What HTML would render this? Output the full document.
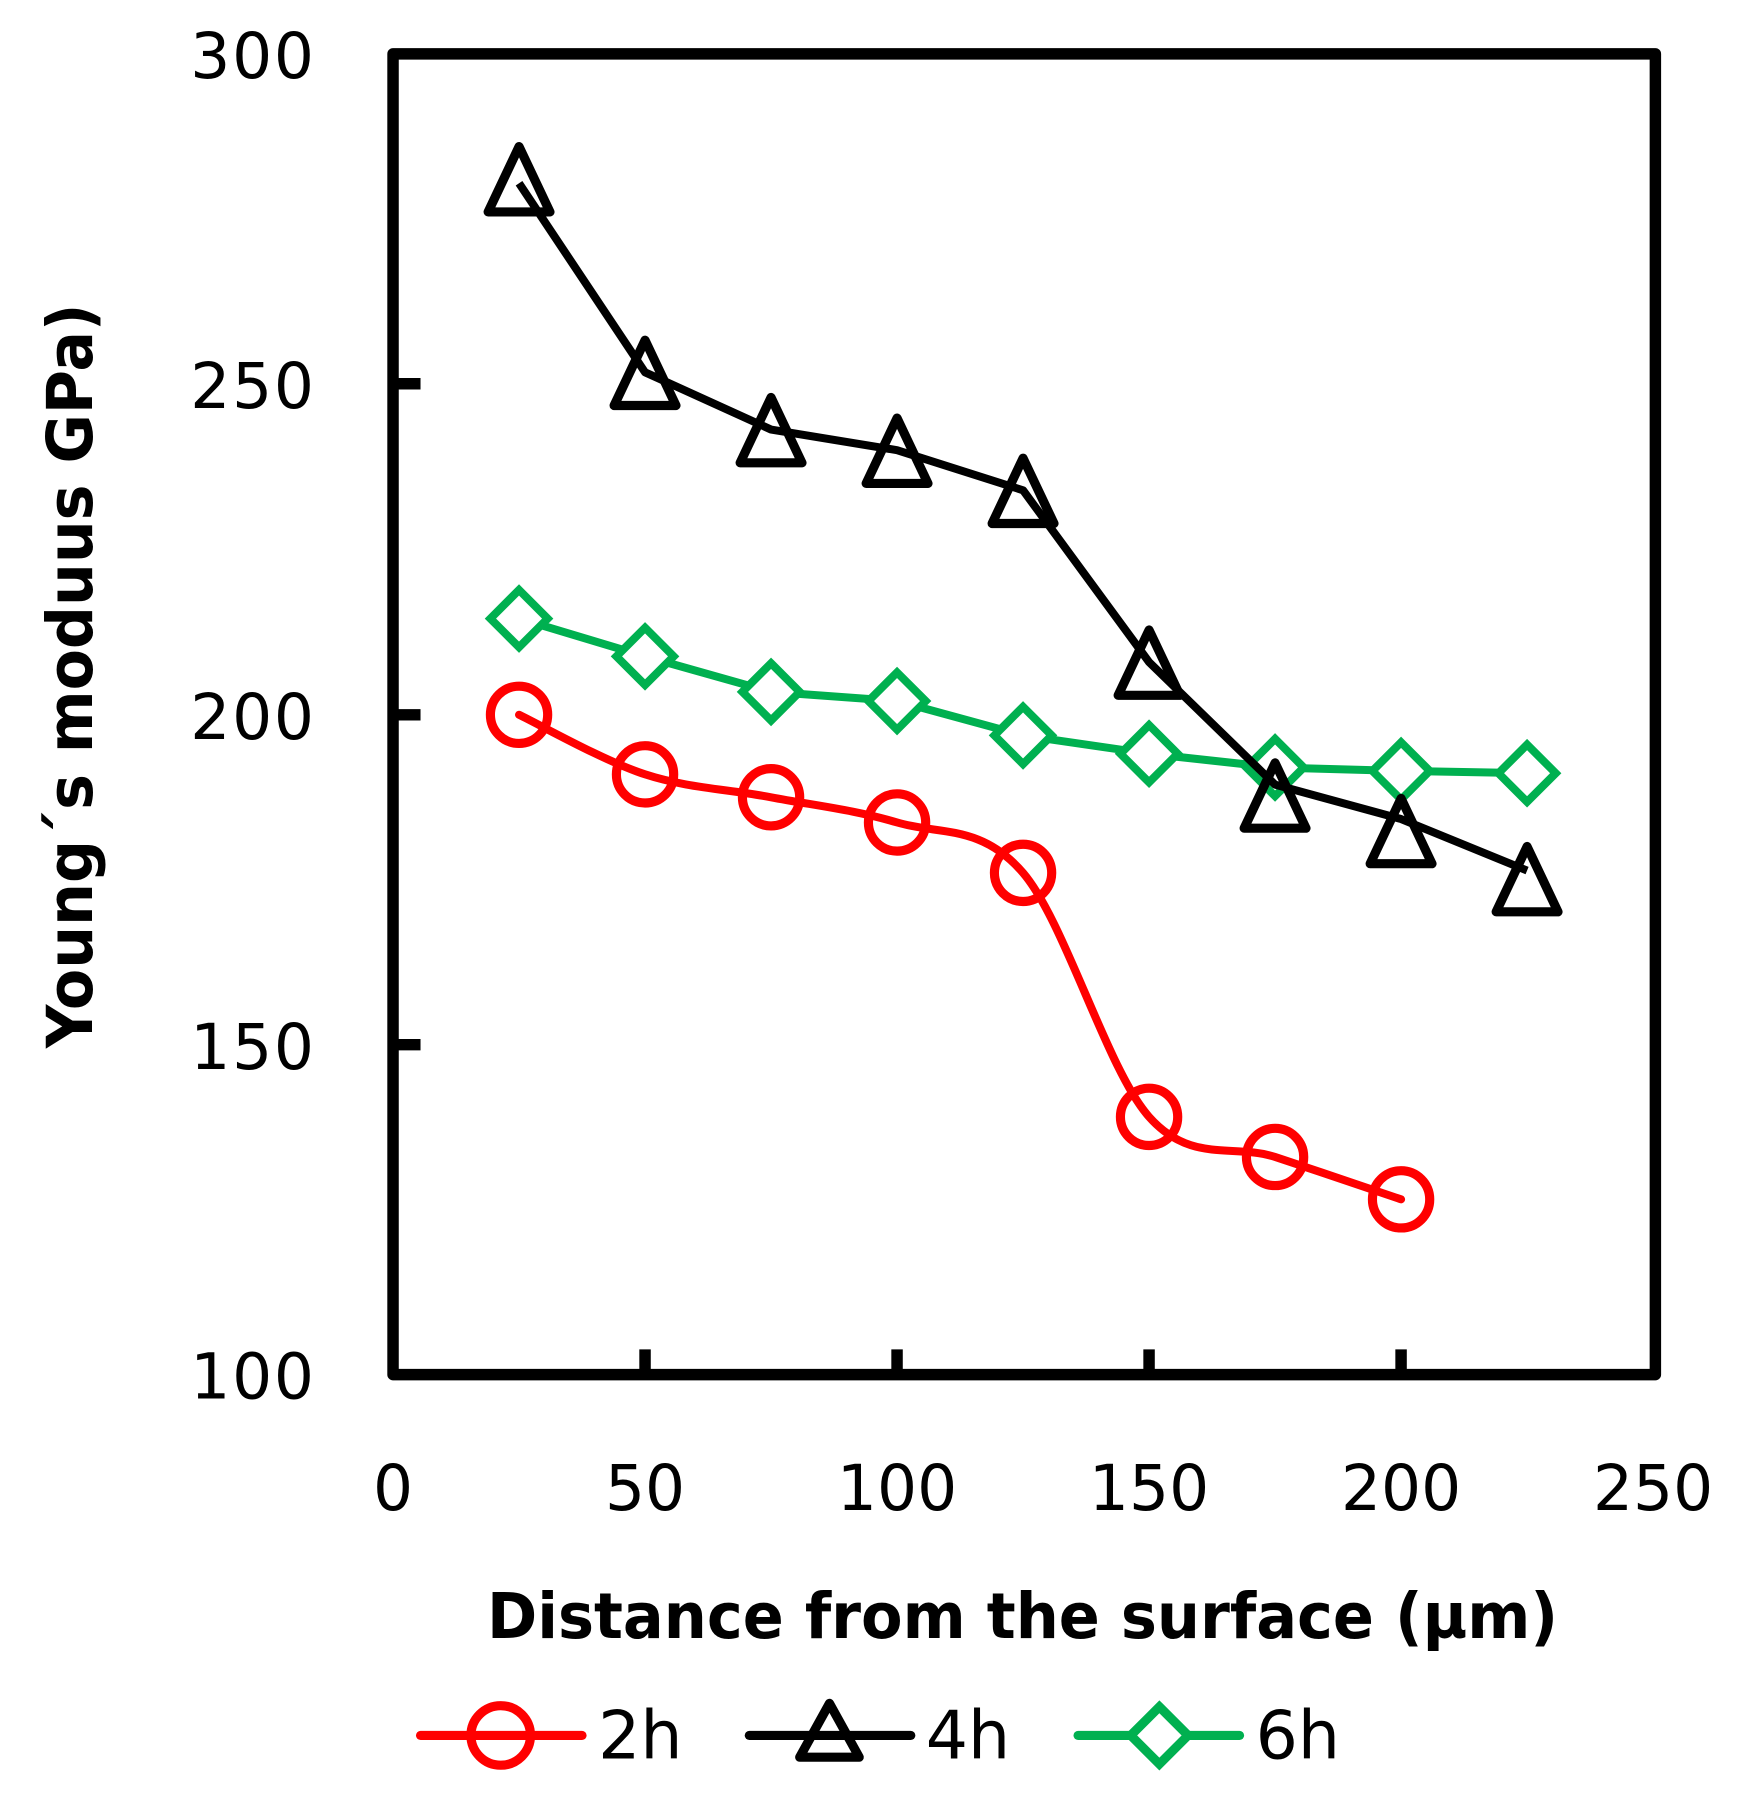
<!DOCTYPE html>
<html><head><meta charset="utf-8"><style>html,body{margin:0;padding:0;background:#fff}svg{display:block}</style></head>
<body>
<svg width="1746" height="1795" viewBox="0 0 1524 1567" xmlns="http://www.w3.org/2000/svg" font-family="'DejaVu Sans', 'Liberation Sans', sans-serif">
<rect width="1524" height="1567" fill="#fff"/>
<g stroke="#000" stroke-width="10" stroke-linecap="butt">
<line x1="343" y1="335" x2="367" y2="335"/>
<line x1="343" y1="624" x2="367" y2="624"/>
<line x1="343" y1="912" x2="367" y2="912"/>
<line x1="563" y1="1200" x2="563" y2="1178"/>
<line x1="783" y1="1200" x2="783" y2="1178"/>
<line x1="1003" y1="1200" x2="1003" y2="1178"/>
<line x1="1223" y1="1200" x2="1223" y2="1178"/>
</g>
<rect x="343" y="47" width="1102" height="1153" fill="none" stroke="#000" stroke-width="10" stroke-linejoin="round"/>
<g font-size="55" text-anchor="end" fill="#000">
<text x="274" y="68" textLength="108">300</text>
<text x="274" y="356" textLength="108">250</text>
<text x="274" y="645" textLength="108">200</text>
<text x="274" y="933" textLength="108">150</text>
<text x="274" y="1221" textLength="108">100</text>
</g>
<g font-size="55" text-anchor="middle" fill="#000">
<text x="343" y="1318">0</text>
<text x="563" y="1318">50</text>
<text x="783" y="1318">100</text>
<text x="1003" y="1318">150</text>
<text x="1223" y="1318">200</text>
<text x="1443" y="1318">250</text>
</g>
<text x="425" y="1430" font-size="55" font-weight="bold" textLength="935" lengthAdjust="spacingAndGlyphs">Distance from the surface (µm)</text>
<text transform="translate(80,915) rotate(-90)" font-size="55" font-weight="bold" textLength="650" lengthAdjust="spacingAndGlyphs">Young´s moduus GPa)</text>
<!-- 6h -->
<polyline fill="none" stroke="#00B050" stroke-width="7" stroke-linejoin="round" points="453,540 563,573 673,604 783,612 893,642 1003,658 1113,670 1223,673 1333,675"/>
<g fill="#fff" stroke="#00B050" stroke-width="7">
<path d="M453,515 L478,540 L453,565 L428,540Z"/>
<path d="M563,548 L588,573 L563,598 L538,573Z"/>
<path d="M673,579 L698,604 L673,629 L648,604Z"/>
<path d="M783,587 L808,612 L783,637 L758,612Z"/>
<path d="M893,617 L918,642 L893,667 L868,642Z"/>
<path d="M1003,633 L1028,658 L1003,683 L978,658Z"/>
<path d="M1113,645 L1138,670 L1113,695 L1088,670Z"/>
<path d="M1223,648 L1248,673 L1223,698 L1198,673Z"/>
<path d="M1333,650 L1358,675 L1333,700 L1308,675Z"/>
</g>
<!-- 4h -->
<polyline fill="none" stroke="#000" stroke-width="7" stroke-linejoin="round" points="453,160 563,325 673,375 783,393 893,428 1003,578 1113,685 1223,715 1333,760"/>
<g fill="none" stroke="#000" stroke-width="8" stroke-linejoin="round">
<path d="M453,128 L480,185 L426,185Z"/>
<path d="M563,297 L590,354 L536,354Z"/>
<path d="M673,347 L700,404 L646,404Z"/>
<path d="M783,365 L810,422 L756,422Z"/>
<path d="M893,400 L920,457 L866,457Z"/>
<path d="M1003,550 L1030,607 L976,607Z"/>
<path d="M1113,666 L1140,723 L1086,723Z"/>
<path d="M1223,697 L1250,754 L1196,754Z"/>
<path d="M1333,739 L1360,796 L1306,796Z"/>
</g>
<!-- 2h -->
<path fill="none" stroke="#FF0000" stroke-width="7" stroke-linecap="round" d="M453,624 C471.3,632.7 526.3,664 563,676 C599.7,688 636.3,689 673,696 C709.7,703 746.3,707 783,718 C819.7,729 856.3,719.2 893,762 C929.7,804.8 966.3,933.7 1003,975 C1039.7,1016.3 1076.3,998 1113,1010 C1149.7,1022 1204.7,1040.8 1223,1047"/>
<g fill="none" stroke="#FF0000" stroke-width="8">
<circle cx="453" cy="624" r="25"/><circle cx="563" cy="676" r="25"/><circle cx="673" cy="696" r="25"/><circle cx="783" cy="718" r="25"/><circle cx="893" cy="762" r="25"/><circle cx="1003" cy="975" r="25"/><circle cx="1113" cy="1010" r="25"/><circle cx="1223" cy="1047" r="25"/>
</g>
<!-- legend -->
<line x1="367" y1="1515" x2="508" y2="1515" stroke="#FF0000" stroke-width="8" stroke-linecap="round"/>
<circle cx="437" cy="1515" r="26" fill="none" stroke="#FF0000" stroke-width="8"/>
<text x="522" y="1535" font-size="58">2h</text>
<line x1="654" y1="1515" x2="795" y2="1515" stroke="#000" stroke-width="8" stroke-linecap="round"/>
<path d="M724,1487 L750,1534 L698,1534Z" fill="none" stroke="#000" stroke-width="8" stroke-linejoin="round"/>
<text x="808" y="1535" font-size="58">4h</text>
<line x1="941" y1="1515" x2="1082" y2="1515" stroke="#00B050" stroke-width="8" stroke-linecap="round"/>
<path d="M1012,1490 L1037,1515 L1012,1540 L987,1515Z" fill="#fff" stroke="#00B050" stroke-width="8"/>
<text x="1096" y="1535" font-size="58">6h</text>
</svg>
</body></html>
